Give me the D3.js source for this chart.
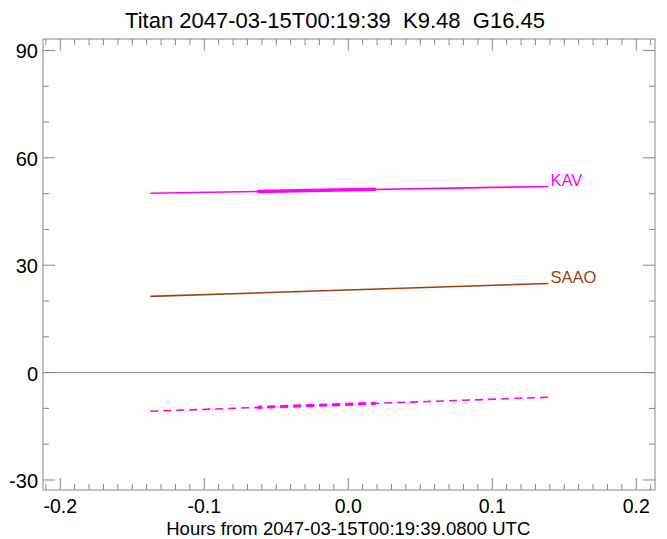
<!DOCTYPE html>
<html>
<head>
<meta charset="utf-8">
<script src="https://cdn.jsdelivr.net/npm/d3@7"></script>
<style>
  body { margin: 0; background: #fff; }
  svg { display: block; font-family: "Liberation Sans", Arial, sans-serif; }
</style>
</head>
<body>
<svg id="chart" width="667" height="539"></svg>
<script>
const title = "Titan 2047-03-15T00:19:39  K9.48  G16.45";
const xLabel = "Hours from 2047-03-15T00:19:39.0800 UTC";

const xTicks = [-0.2, -0.1, 0.0, 0.1, 0.2];
const yTicks = [-30, 0, 30, 60, 90];

// full track, hours
const hours = [-0.1375, 0.139];
const kav = [50.1, 52.0];
const saao = [21.3, 24.9];
const kavBelow = [-10.8, -6.9];

// bold part of the track
const boldHours = [-0.063, 0.019];
const kavBold = [50.6, 51.2];
const kavBelowBold = [-9.7, -8.6];

const svg = d3.select("#chart");
const margin = {top: 39, right: 12, bottom: 49, left: 43};
const width = 667 - margin.left - margin.right;
const height = 539 - margin.top - margin.bottom;

const x = d3.scaleLinear().domain([-0.212, 0.213]).range([0, width]);
const y = d3.scaleLinear().domain([-32.8, 93.2]).range([height, 0]);

const g = svg.append("g").attr("transform", `translate(${margin.left},${margin.top})`);
const axisColor = "#888";

// frame
g.append("rect")
  .attr("width", width).attr("height", height)
  .attr("fill", "none").attr("stroke", axisColor).attr("stroke-width", 1);

// zero line
g.append("line")
  .attr("x1", 0).attr("x2", width)
  .attr("y1", y(0)).attr("y2", y(0))
  .attr("stroke", axisColor).attr("stroke-width", 1);

// ticks on all four sides
const xMinor = d3.range(-21, 22).map(i => i / 100);
const yMinor = d3.range(-30, 91, 10);
const tick = sel => sel.attr("stroke", axisColor).attr("stroke-width", 1);

xMinor.forEach(v => {
  const major = xTicks.some(t => Math.abs(t - v) < 1e-9);
  const len = major ? 12 : 6;
  tick(g.append("line").attr("x1", x(v)).attr("x2", x(v)).attr("y1", height).attr("y2", height - len));
  tick(g.append("line").attr("x1", x(v)).attr("x2", x(v)).attr("y1", 0).attr("y2", len));
});
yMinor.forEach(v => {
  const major = yTicks.includes(v);
  const len = major ? 12 : 6;
  tick(g.append("line").attr("y1", y(v)).attr("y2", y(v)).attr("x1", 0).attr("x2", len));
  tick(g.append("line").attr("y1", y(v)).attr("y2", y(v)).attr("x1", width).attr("x2", width - len));
});

// tick labels
g.selectAll(".xl").data(xTicks).join("text")
  .attr("x", d => x(d)).attr("y", height + 23)
  .attr("text-anchor", "middle").attr("font-size", 19.5)
  .text(d => d3.format(".1f")(d).replace("−", "-"));
g.selectAll(".yl").data(yTicks).join("text")
  .attr("x", -5).attr("y", d => y(d) + 8)
  .attr("text-anchor", "end").attr("font-size", 20)
  .text(d => String(d));

// titles
svg.append("text")
  .attr("x", 335).attr("y", 28)
  .attr("text-anchor", "middle").attr("font-size", 22)
  .style("white-space", "pre")
  .text(title);
svg.append("text")
  .attr("x", margin.left + x(0)).attr("y", 535)
  .attr("text-anchor", "middle").attr("font-size", 18.5)
  .text(xLabel);

const line = d3.line().x(d => x(d[0])).y(d => y(d[1]));
const pairs = (xs, ys) => xs.map((v, i) => [v, ys[i]]);

const magenta = "#ff00ff";
const brown = "#a0400a";

g.append("path").datum(pairs(hours, kav)).attr("d", line)
  .attr("fill", "none").attr("stroke", magenta).attr("stroke-width", 1.6);
g.append("path").datum(pairs(boldHours, kavBold)).attr("d", line)
  .attr("fill", "none").attr("stroke", magenta).attr("stroke-width", 3.5);

g.append("path").datum(pairs(hours, saao)).attr("d", line)
  .attr("fill", "none").attr("stroke", brown).attr("stroke-width", 1.6);

// keep the bold dashes in step with the thin ones
const phase = Math.hypot(x(boldHours[0]) - x(hours[0]), y(kavBelowBold[0]) - y(kavBelow[0]));
g.append("path").datum(pairs(hours, kavBelow)).attr("d", line)
  .attr("fill", "none").attr("stroke", magenta).attr("stroke-width", 1.6)
  .attr("stroke-dasharray", "8,5");
g.append("path").datum(pairs(boldHours, kavBelowBold)).attr("d", line)
  .attr("fill", "none").attr("stroke", magenta).attr("stroke-width", 3.2)
  .attr("stroke-dasharray", "8,5").attr("stroke-dashoffset", phase);

// station labels at the track end
g.append("text")
  .attr("x", x(hours[1]) + 2).attr("y", y(kav[1]))
  .attr("font-size", 16.5).attr("fill", magenta).text("KAV");
g.append("text")
  .attr("x", x(hours[1]) + 2).attr("y", y(saao[1]))
  .attr("font-size", 16.5).attr("fill", brown).text("SAAO");
</script>
</body>
</html>
